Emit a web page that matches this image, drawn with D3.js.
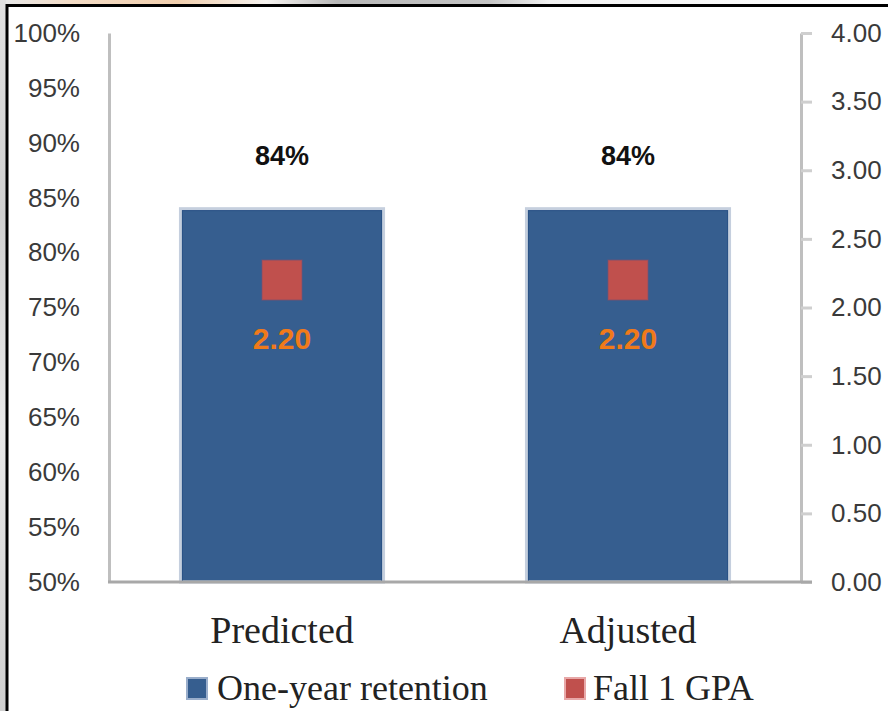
<!DOCTYPE html>
<html>
<head>
<meta charset="utf-8">
<script src="https://cdn.jsdelivr.net/npm/d3@7"></script>
<style>
  html, body { margin: 0; padding: 0; background: #fff; }
  svg { display: block; }
</style>
</head>
<body>
<svg id="chart" width="888" height="711"></svg>
<script>
// ---- data ----
const categories = ["Predicted", "Adjusted"];
const retentionValues = [0.84, 0.84];
const gpaValues = [2.20, 2.20];
const leftTicks = [0.50, 0.55, 0.60, 0.65, 0.70, 0.75, 0.80, 0.85, 0.90, 0.95, 1.00];
const rightTicks = [0, 0.5, 1, 1.5, 2, 2.5, 3, 3.5, 4];
const seriesNames = ["One-year retention", "Fall 1 GPA"];
const seriesColors = ["#365E8F", "#C0504D"];

const svg = d3.select("#chart");

// background blur strips (slide background peeking around the frame)
const defs = svg.append("defs");
const g1 = defs.append("linearGradient").attr("id", "topgrad");
[["0%", "#e6e8ea"], ["8%", "#f3dcc6"], ["20%", "#f1cfae"], ["30%", "#f6f3f0"], ["38%", "#b8b8b8"], ["55%", "#c4c4c4"], ["62%", "#f2f2f2"], ["100%", "#ffffff"]]
  .forEach(([o, c]) => g1.append("stop").attr("offset", o).attr("stop-color", c));
svg.append("rect").attr("x", 0).attr("y", 0).attr("width", 888).attr("height", 5).attr("fill", "url(#topgrad)");
const g2 = defs.append("linearGradient").attr("id", "leftgrad").attr("x1", 0).attr("x2", 0).attr("y1", 0).attr("y2", 1);
[["0%", "#e0e0e0"], ["30%", "#d0d0d0"], ["60%", "#e8e8e8"], ["100%", "#cfcfcf"]]
  .forEach(([o, c]) => g2.append("stop").attr("offset", o).attr("stop-color", c));
svg.append("rect").attr("x", 0).attr("y", 0).attr("width", 6).attr("height", 711).attr("fill", "url(#leftgrad)");

// frame
svg.append("line").attr("x1", 6).attr("x2", 888).attr("y1", 5.5).attr("y2", 5.5).attr("stroke", "#000").attr("stroke-width", 3);
svg.append("line").attr("x1", 7).attr("x2", 7).attr("y1", 4).attr("y2", 711).attr("stroke", "#000").attr("stroke-width", 3);

// ---- scales ----
const plotLeft = 109, plotRight = 801, plotTop = 33, plotBottom = 582;
const x = d3.scaleBand().domain(categories).range([plotLeft, plotRight]).paddingInner(0.413).paddingOuter(0.2065);
const yL = d3.scaleLinear().domain([0.5, 1]).range([plotBottom, plotTop]);
const yR = d3.scaleLinear().domain([0, 4]).range([plotBottom, plotTop]);

// ---- bars ----
svg.append("g").selectAll("rect").data(categories).join("rect")
  .attr("x", d => x(d))
  .attr("y", (d, i) => yL(retentionValues[i]))
  .attr("width", x.bandwidth())
  .attr("height", (d, i) => yL(0.5) - yL(retentionValues[i]))
  .attr("fill", seriesColors[0])
  .attr("stroke", "#c5cfde")
  .attr("stroke-width", 3);
svg.append("g").selectAll("rect").data(categories).join("rect")
  .attr("x", d => x(d) + 2)
  .attr("y", (d, i) => yL(retentionValues[i]) + 2)
  .attr("width", x.bandwidth() - 4)
  .attr("height", (d, i) => yL(0.5) - yL(retentionValues[i]) - 2)
  .attr("fill", "none")
  .attr("stroke", "#2b5286")
  .attr("stroke-width", 1);

// ---- axes ----
const axisL = svg.append("g").attr("transform", `translate(${plotLeft},0)`)
  .call(d3.axisLeft(yL).tickValues(leftTicks).tickFormat(d => Math.round(d * 100) + "%").tickSize(0).tickPadding(29).tickSizeOuter(0));
axisL.select(".domain").attr("stroke", "#bfbfbf").attr("stroke-width", 3);
axisL.selectAll("text").attr("font-family", "'Liberation Sans', Arial, sans-serif").attr("font-size", 26).attr("fill", "#3a3a3a");

const axisR = svg.append("g").attr("transform", `translate(${plotRight},0)`)
  .call(d3.axisRight(yR).tickValues(rightTicks).tickFormat(d3.format(".2f")).tickSize(11).tickPadding(19).tickSizeOuter(0));
axisR.select(".domain").attr("stroke", "#bfbfbf").attr("stroke-width", 3);
axisR.selectAll(".tick line").attr("stroke", "#cfcfcf").attr("stroke-width", 3);
axisR.selectAll("text").attr("font-family", "'Liberation Sans', Arial, sans-serif").attr("font-size", 26).attr("fill", "#3a3a3a");

// baseline
svg.append("line").attr("x1", plotLeft - 1).attr("x2", plotRight + 11).attr("y1", plotBottom).attr("y2", plotBottom)
  .attr("stroke", "#a8a8a8").attr("stroke-width", 3);

const axisB = svg.append("g").attr("transform", `translate(0,${plotBottom})`)
  .call(d3.axisBottom(x).tickSize(0).tickPadding(0));
axisB.select(".domain").remove();
axisB.selectAll("text").attr("dy", null).attr("y", 61)
  .attr("font-family", "'Liberation Serif', 'Times New Roman', serif").attr("font-size", 38).attr("fill", "#222");

// ---- GPA markers ----
const sq = 40;
svg.append("g").selectAll("rect").data(categories).join("rect")
  .attr("x", d => x(d) + x.bandwidth() / 2 - sq / 2)
  .attr("y", (d, i) => yR(gpaValues[i]) - sq / 2)
  .attr("width", sq).attr("height", sq)
  .attr("fill", seriesColors[1])
  .attr("stroke", "#7a5070").attr("stroke-opacity", 0.5).attr("stroke-width", 1.5);

// ---- data labels ----
svg.append("g").selectAll("text").data(categories).join("text")
  .attr("x", d => x(d) + x.bandwidth() / 2)
  .attr("y", (d, i) => yL(retentionValues[i]) - 44)
  .attr("text-anchor", "middle")
  .attr("font-family", "'Liberation Sans', Arial, sans-serif").attr("font-weight", "bold").attr("font-size", 27)
  .attr("fill", "#111")
  .text((d, i) => Math.round(retentionValues[i] * 100) + "%");

svg.append("g").selectAll("text").data(categories).join("text")
  .attr("x", d => x(d) + x.bandwidth() / 2)
  .attr("y", (d, i) => yR(gpaValues[i]) + 69)
  .attr("text-anchor", "middle")
  .attr("font-family", "'Liberation Sans', Arial, sans-serif").attr("font-weight", "bold").attr("font-size", 30)
  .attr("fill", "#F07A1A")
  .text((d, i) => gpaValues[i].toFixed(2));

// ---- legend ----
const legendX = [187, 565];
const lg = svg.append("g").selectAll("g").data(seriesNames).join("g")
  .attr("transform", (d, i) => `translate(${legendX[i]},678)`);
lg.append("rect").attr("x", 0).attr("y", 0).attr("width", 20).attr("height", 21)
  .attr("fill", (d, i) => seriesColors[i])
  .attr("stroke", (d, i) => i === 0 ? "#9aaecb" : "#e8a8a8").attr("stroke-width", 2);
lg.append("text").attr("x", (d, i) => i === 0 ? 30 : 28).attr("y", 22)
  .attr("font-family", "'Liberation Serif', 'Times New Roman', serif").attr("font-size", 36).attr("fill", "#222")
  .text(d => d);
</script>
</body>
</html>
